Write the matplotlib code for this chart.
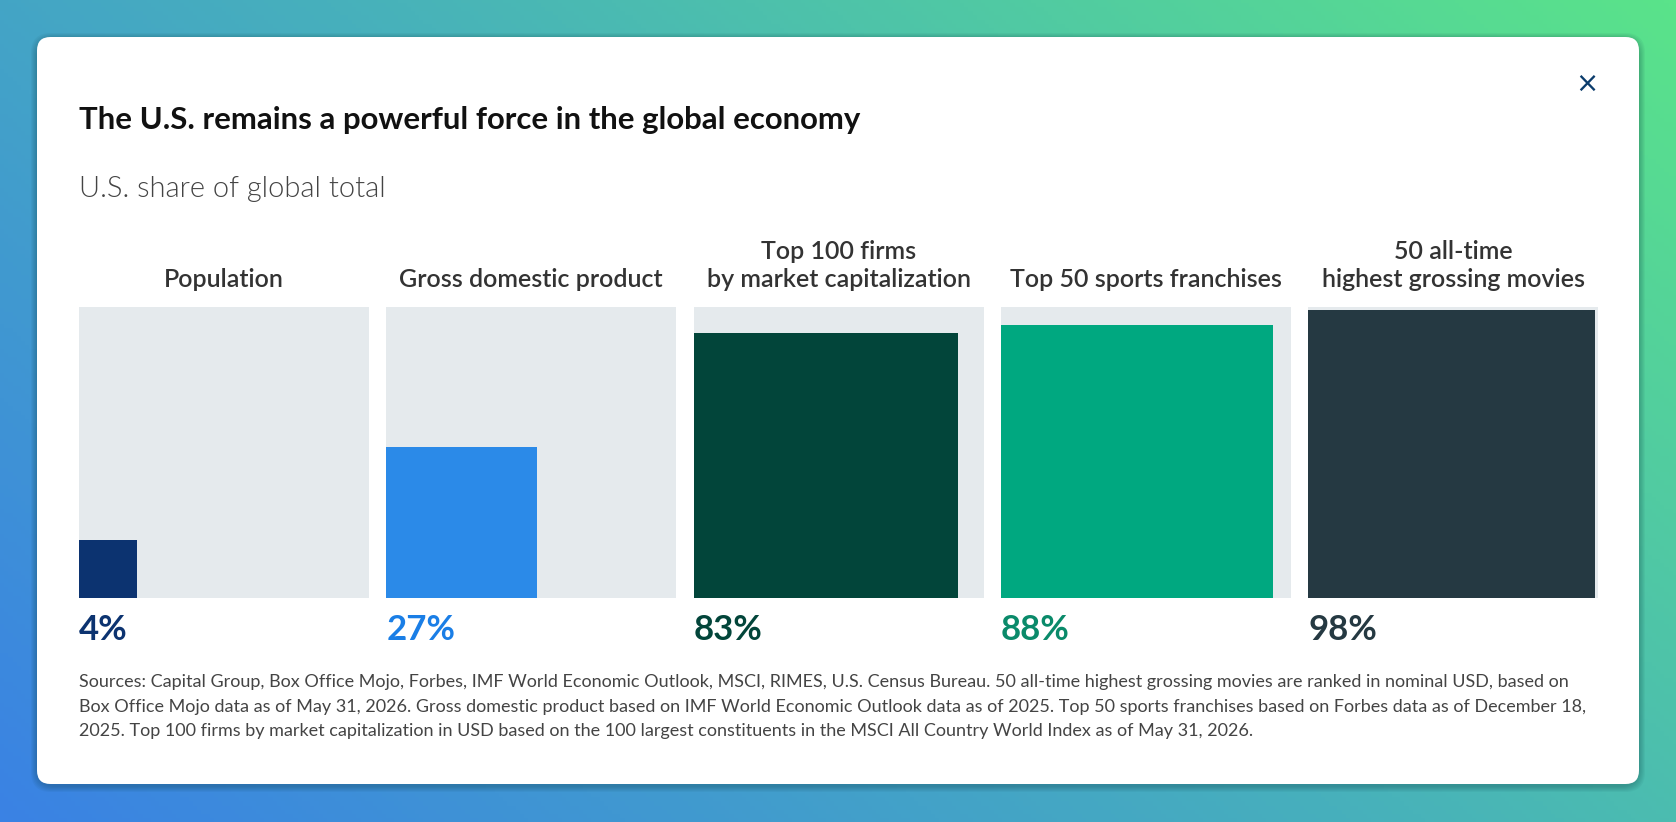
import numpy as np
import matplotlib.pyplot as plt
from matplotlib.patches import FancyBboxPatch
from matplotlib.colors import LinearSegmentedColormap

W, H = 1676, 822

# data
categories = ["Population", "Gross domestic product", "Top 100 firms\nby market capitalization",
              "Top 50 sports franchises", "50 all-time\nhighest grossing movies"]
shares = [4, 27, 83, 88, 98]
bar_colors = ["#0c3370", "#2b8ae8", "#02453a", "#00a880", "#253942"]
label_colors = ["#0c3370", "#1a7ee6", "#02453a", "#0a8a6a", "#253942"]

title = "The U.S. remains a powerful force in the global economy"
subtitle = "U.S. share of global total"
footnote_lines = [
    "Sources: Capital Group, Box Office Mojo, Forbes, IMF World Economic Outlook, MSCI, RIMES, U.S. Census Bureau. "
    "50 all-time highest grossing movies are ranked in nominal USD, based on",
    "Box Office Mojo data as of May 31, 2026. Gross domestic product based on IMF World Economic Outlook data as of 2025. "
    "Top 50 sports franchises based on Forbes data as of December 18,",
    "2025. Top 100 firms by market capitalization in USD based on the 100 largest constituents in the MSCI All Country "
    "World Index as of May 31, 2026.",
]


def fx(x):
    return x / W


def fy(y):
    return 1 - y / H


fig = plt.figure(figsize=(W / 100, H / 100), dpi=100)

# gradient background
bg = fig.add_axes([0, 0, 1, 1])
xx, yy = np.meshgrid(np.linspace(0, 1, 400), np.linspace(0, 1, 200))
grad = (xx * 0.62 + yy * 0.38)
cmap = LinearSegmentedColormap.from_list("bg", ["#3a82e4", "#47b0bc", "#5ae38a"])
bg.imshow(grad, cmap=cmap, origin="lower", extent=[0, 1, 0, 1], aspect="auto")
bg.set_xlim(0, 1)
bg.set_ylim(0, 1)
bg.set_axis_off()

# card with soft shadow
cx0, cy0, cx1, cy1 = 37, 37, 1639, 784
for k in range(6, 0, -1):
    sh = FancyBboxPatch((fx(cx0 - k), fy(cy1 + k + 2)), fx(cx1 - cx0 + 2 * k), (cy1 - cy0 + 2 * k) / H,
                        boxstyle="round,pad=0,rounding_size=0.012", transform=fig.transFigure,
                        facecolor="#0a3a40", edgecolor="none", alpha=0.05, mutation_aspect=W / H)
    fig.patches.append(sh)
card = FancyBboxPatch((fx(cx0), fy(cy1)), fx(cx1 - cx0), (cy1 - cy0) / H,
                      boxstyle="round,pad=0,rounding_size=0.008", transform=fig.transFigure,
                      facecolor="white", edgecolor="none", mutation_aspect=W / H)
fig.patches.append(card)

# texts
fig.text(fx(79), fy(129), title, fontsize=22.4, fontweight="bold", family="Lato",
         color="#111111", va="baseline", ha="left")
fig.text(fx(79), fy(197), subtitle, fontsize=21, fontweight=300, family="Lato",
         color="#444444", va="baseline", ha="left")
fig.text(fx(1587), fy(84), "\u00d7", fontsize=20, color="#0b3c6c", va="center", ha="center",
         family="DejaVu Sans")

# panels
panel_w, panel_h = 290, 291
pitch = 307.3
top = 307
for i, (cat, val) in enumerate(zip(categories, shares)):
    left = 79 + i * pitch
    ax = fig.add_axes([fx(left), fy(top + panel_h), fx(panel_w), panel_h / H])
    ax.set_zorder(3)
    ax.set_facecolor("#e5eaed")
    side = np.sqrt(val / 100)
    ax.bar(0, side, width=side, align="edge", color=bar_colors[i], linewidth=0)
    ax.set_xlim(0, 1)
    ax.set_ylim(0, 1)
    ax.set_xticks([])
    ax.set_yticks([])
    for s in ax.spines.values():
        s.set_visible(False)

    lines = cat.split("\n")
    for j, line in enumerate(reversed(lines)):
        fig.text(fx(left + panel_w / 2), fy(287 - 28 * j), line, fontsize=18, fontweight="semibold",
                 family="Lato", color="#333333", ha="center", va="baseline")

    fig.text(fx(left), fy(640), f"{val}%", fontsize=25, fontweight="bold", family="Lato",
             color=label_colors[i], ha="left", va="baseline")

for j, line in enumerate(footnote_lines):
    fig.text(fx(79), fy(687 + 24.5 * j), line, fontsize=13, family="Lato", color="#444444",
             ha="left", va="baseline")

fig.savefig("out.png", dpi=100)
